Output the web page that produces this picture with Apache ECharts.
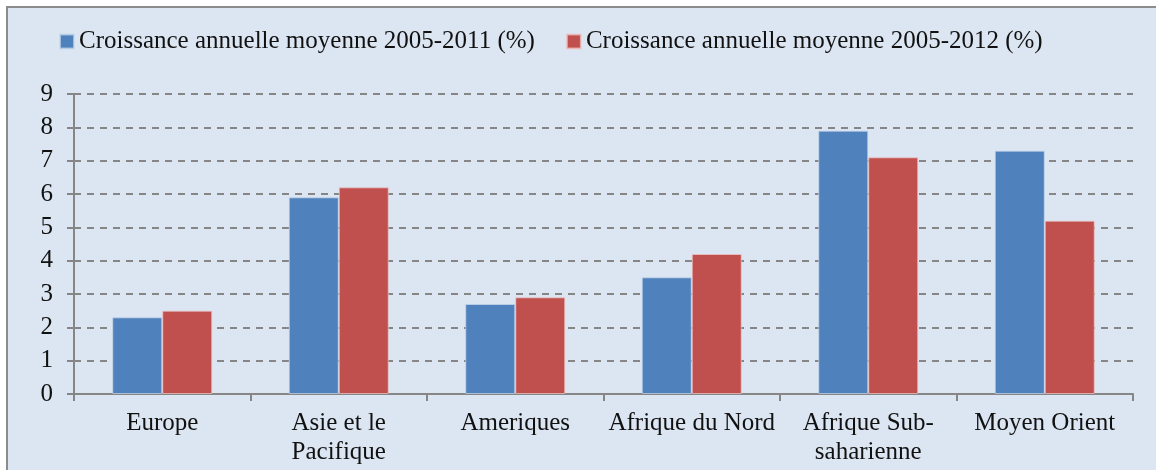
<!DOCTYPE html>
<html>
<head>
<meta charset="utf-8">
<script src="https://cdn.jsdelivr.net/npm/echarts@6/dist/echarts.min.js"></script>
<style>
  html, body { margin: 0; padding: 0; background: #ffffff; }
  #frame { position: absolute; left: 6px; top: 6px; width: 1200px; height: 520px;
           border: 2px solid #8c8c8c; background: #dce6f2; box-sizing: border-box; }
  #chart { position: absolute; left: 0; top: 0; width: 1156px; height: 470px; }
</style>
</head>
<body>
<div id="frame"></div>
<div id="chart"></div>
<script>
const categories = ["Europe", "Asie et le\nPacifique", "Ameriques", "Afrique du Nord", "Afrique Sub-\nsaharienne", "Moyen Orient"];
const seriesNames = ["Croissance annuelle moyenne 2005-2011 (%)", "Croissance annuelle moyenne 2005-2012 (%)"];
const growth2011 = [2.3, 5.9, 2.7, 3.5, 7.9, 7.3];
const growth2012 = [2.5, 6.2, 2.9, 4.2, 7.1, 5.2];
const yTicks = [0, 1, 2, 3, 4, 5, 6, 7, 8, 9];

const FONT = "'Liberation Serif', 'DejaVu Serif', serif";
const chart = echarts.init(document.getElementById('chart'), null, { renderer: 'canvas' });
chart.setOption({
  backgroundColor: 'transparent',
  animation: false,
  textStyle: { fontFamily: FONT },
  legend: {
    left: 59, top: 29, padding: 0,
    icon: 'rect', itemWidth: 14, itemHeight: 14, itemGap: 31,
    textStyle: { fontFamily: FONT, fontSize: 25, color: '#111111' },
    data: seriesNames
  },
  grid: { left: 74, right: 23, top: 94, bottom: 76, containLabel: false },
  xAxis: {
    type: 'category',
    data: categories,
    axisLine: { lineStyle: { color: '#868686', width: 2 } },
    axisTick: { show: true, alignWithLabel: false, length: 7, lineStyle: { color: '#868686', width: 2 } },
    axisLabel: { interval: 0, margin: 15, fontFamily: FONT, fontSize: 25, lineHeight: 29, color: '#111111' },
    splitLine: { show: false }
  },
  yAxis: {
    type: 'value',
    min: yTicks[0], max: yTicks[yTicks.length - 1], interval: 1,
    axisLine: { show: true, lineStyle: { color: '#868686', width: 2 } },
    axisTick: { show: true, length: 7, lineStyle: { color: '#868686', width: 2 } },
    axisLabel: { margin: 21, fontFamily: FONT, fontSize: 25, color: '#111111' },
    splitLine: { show: true, lineStyle: { color: '#868686', width: 2, type: [7, 6] } }
  },
  series: [
    {
      name: seriesNames[0], type: 'bar', data: growth2011, barWidth: 50, barGap: '0%',
      itemStyle: { color: '#4f81bd', borderColor: 'rgba(200,215,235,0.7)', borderWidth: 1 }
    },
    {
      name: seriesNames[1], type: 'bar', data: growth2012, barWidth: 50, barGap: '0%',
      itemStyle: { color: '#c0504d', borderColor: 'rgba(240,200,200,0.7)', borderWidth: 1 }
    }
  ]
});
</script>
</body>
</html>
